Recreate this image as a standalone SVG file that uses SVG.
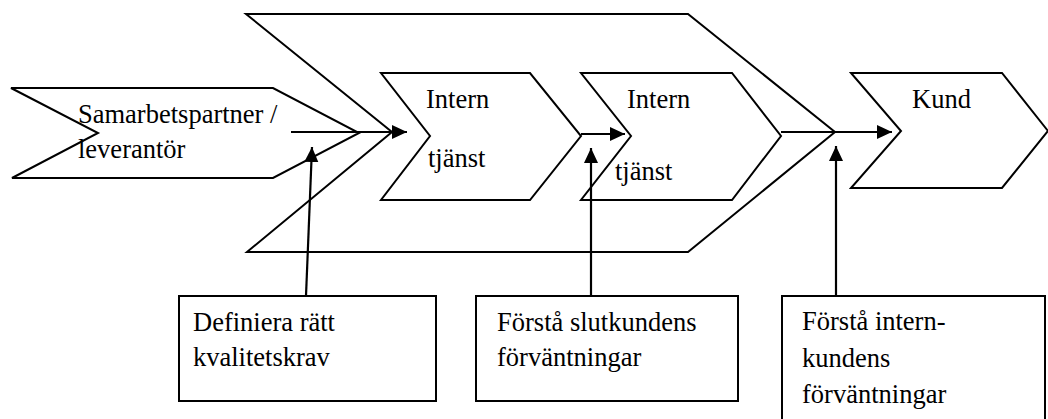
<svg xmlns="http://www.w3.org/2000/svg" width="1048" height="419" viewBox="0 0 1048 419">
<style>
.shape{fill:none;stroke:#000;stroke-width:2;stroke-linejoin:miter}
.box{fill:#fff;stroke:#000;stroke-width:2}
.conn line{stroke:#000;stroke-width:2.2;marker-end:url(#ah)}
</style>
<defs>
<marker id="ah" markerUnits="userSpaceOnUse" markerWidth="16" markerHeight="15" refX="15" refY="7" orient="auto">
<path d="M0,0 L15,7 L0,14 Z" fill="#000"/>
</marker>
</defs>
<rect width="1048" height="419" fill="#fff"/>
<g font-family="Liberation Serif, serif" font-size="26.5" fill="#000">
<g id="big-chevron"><path class="shape" d="M246,14 L688,14 L835,132 L688,252 L247,252 L392,132 Z"/></g>
<g id="samarbetspartner"><path class="shape" d="M11,88 L273,88 L359,133 L273,178 L12,178 L98,133 Z"/>
<text x="78" y="123">Samarbetspartner /</text>
<text x="78" y="158">leverantör</text></g>
<g id="intern1"><path class="shape" d="M381,73 L530,73 L581,136 L530,200 L381,200 L430,136 Z"/>
<text x="426" y="108">Intern</text>
<text x="428" y="167">tjänst</text></g>
<g id="intern2"><path class="shape" d="M581,73 L732,73 L781,136 L732,200 L581,200 L631,136 Z"/>
<text x="627" y="108">Intern</text>
<text x="615" y="180">tjänst</text></g>
<g id="kund"><path class="shape" d="M851,73 L1002,73 L1048,131 L1002,188 L851,188 L901,131 Z"/>
<text x="912" y="108">Kund</text></g>
<g id="box1"><rect class="box" x="179" y="296" width="257" height="105"/>
<text x="193" y="331">Definiera rätt</text>
<text x="193" y="366">kvalitetskrav</text></g>
<g id="box2"><rect class="box" x="476" y="296" width="262" height="105"/>
<text x="497" y="331">Förstå slutkundens</text>
<text x="497" y="366">förväntningar</text></g>
<g id="box3"><rect class="box" x="782" y="296" width="263" height="140"/>
<text x="802" y="330">Förstå intern-</text>
<text x="802" y="367">kundens</text>
<text x="802" y="403">förväntningar</text></g>
</g>
<g id="connectors" class="conn">
<line x1="291" y1="132" x2="407" y2="132"/>
<line x1="581" y1="134" x2="625" y2="134"/>
<line x1="781" y1="132" x2="892" y2="132"/>
<line x1="306" y1="296" x2="312" y2="147"/>
<line x1="591" y1="296" x2="591" y2="148"/>
<line x1="836" y1="296" x2="836" y2="146"/>
</g>
</svg>
